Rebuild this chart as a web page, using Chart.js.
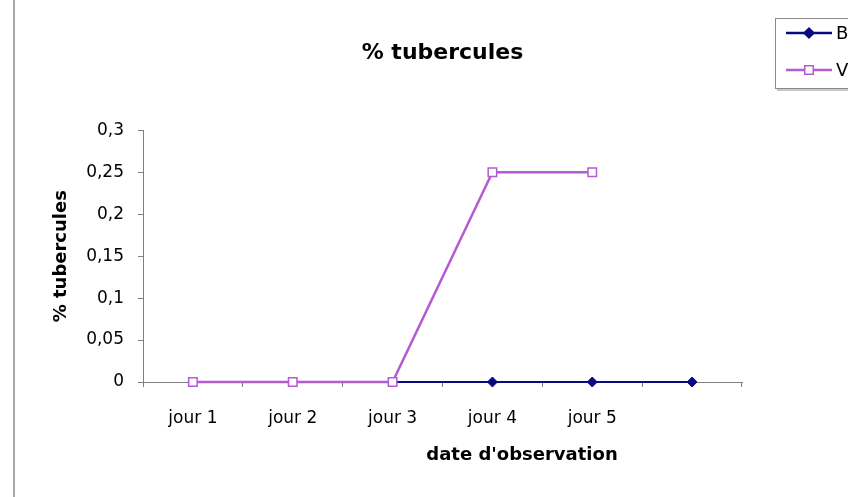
<!DOCTYPE html>
<html>
<head>
<meta charset="utf-8">
<script src="https://cdn.jsdelivr.net/npm/chart.js@4/dist/chart.umd.min.js"></script>
<style>
  html, body { margin: 0; padding: 0; background: #fff; }
  #wrap { width: 848px; height: 497px; }
</style>
</head>
<body>
<div id="wrap"><canvas id="c" width="848" height="497"></canvas></div>
<script>
// données
const jours = ['jour 1', 'jour 2', 'jour 3', 'jour 4', 'jour 5', ''];
const serieB = [0, 0, 0, 0, 0, 0];
const serieV = [0, 0, 0, 0.25, 0.25, null];
const yTicks = [0, 0.05, 0.1, 0.15, 0.2, 0.25, 0.3];

const FONT = "'DejaVu Sans', Verdana, sans-serif";
const BLEU = '#0a0a80';
const ROSE = '#b45ad2';

const fmtVirgule = v => String(+v.toFixed(2)).replace('.', ',');

// cadre gauche, titre de l'axe x et légende
const decor = {
  id: 'decor',
  afterDraw(chart) {
    const ctx = chart.ctx;
    ctx.save();
    ctx.strokeStyle = '#a8a8a8';
    ctx.lineWidth = 2;
    ctx.beginPath(); ctx.moveTo(14, 0); ctx.lineTo(14, 497); ctx.stroke();

    ctx.fillStyle = '#000';
    ctx.font = "bold 18px " + FONT;
    ctx.textAlign = 'center';
    ctx.textBaseline = 'middle';
    ctx.fillText("date d'observation", 522, 455);

    // légende (coupée par le bord droit)
    ctx.strokeStyle = '#8a8a8a';
    ctx.lineWidth = 1;
    ctx.strokeRect(775.5, 18.5, 100, 70);
    ctx.strokeStyle = '#c8c8c8';
    ctx.lineWidth = 2;
    ctx.beginPath(); ctx.moveTo(777, 90); ctx.lineTo(848, 90); ctx.stroke();
    const rows = [
      { label: 'B', color: BLEU, y: 33, style: 'rectRot', r: 5, fill: BLEU },
      { label: 'V', color: ROSE, y: 70, style: 'rect', r: 6, fill: '#fff' }
    ];
    ctx.font = "18px " + FONT;
    ctx.textAlign = 'left';
    rows.forEach(row => {
      ctx.strokeStyle = row.color;
      ctx.lineWidth = 2.5;
      ctx.beginPath(); ctx.moveTo(786, row.y); ctx.lineTo(832, row.y); ctx.stroke();
      ctx.fillStyle = row.fill;
      ctx.lineWidth = 1.5;
      Chart.helpers.drawPoint(ctx, { pointStyle: row.style, radius: row.r, borderWidth: 1.5 }, 809, row.y);
      ctx.fillStyle = '#000';
      ctx.fillText(row.label, 836, row.y + 1);
    });
    ctx.restore();
  }
};

new Chart(document.getElementById('c'), {
  type: 'line',
  data: {
    labels: jours,
    datasets: [
      {
        label: 'B', data: serieB, order: 2, clip: false,
        borderColor: BLEU, backgroundColor: BLEU, borderWidth: 2,
        pointStyle: 'rectRot', pointRadius: 5, pointBorderWidth: 1,
        pointBackgroundColor: BLEU, pointBorderColor: BLEU, tension: 0
      },
      {
        label: 'V', data: serieV, order: 1, clip: false,
        borderColor: ROSE, backgroundColor: '#fff', borderWidth: 2.5,
        pointStyle: 'rect', pointRadius: 6, pointBorderWidth: 1.5,
        pointBackgroundColor: '#fff', pointBorderColor: ROSE, tension: 0
      }
    ]
  },
  options: {
    responsive: false,
    animation: false,
    layout: { padding: { left: 20, right: 106, top: 0, bottom: 0 } },
    plugins: {
      legend: { display: false },
      tooltip: { enabled: false },
      title: {
        display: true, text: '% tubercules', fullSize: false,
        color: '#000', font: { family: FONT, size: 22, weight: 'bold' },
        padding: { top: 40, bottom: 64 }
      }
    },
    scales: {
      x: {
        offset: true,
        grid: { offset: true, drawOnChartArea: false, tickLength: 5, color: '#808080' },
        border: { color: '#808080', width: 1 },
        ticks: { color: '#000', font: { family: FONT, size: 17 }, padding: 21, maxRotation: 0, autoSkip: false },
        afterFit(scale) { scale.height = 115; }
      },
      y: {
        min: 0, max: 0.3,
        afterBuildTicks(scale) { scale.ticks = yTicks.map(v => ({ value: v })); },
        grid: { drawOnChartArea: false, tickLength: 5, color: '#808080' },
        border: { color: '#808080', width: 1 },
        ticks: { color: '#000', font: { family: FONT, size: 17 }, padding: 14, callback: v => fmtVirgule(v) },
        title: {
          display: true, text: '% tubercules', color: '#000',
          font: { family: FONT, size: 18, weight: 'bold' },
          padding: { top: 31, bottom: 0 }
        },
        afterFit(scale) { scale.width = 123; }
      }
    }
  },
  plugins: [decor]
});
</script>
</body>
</html>
